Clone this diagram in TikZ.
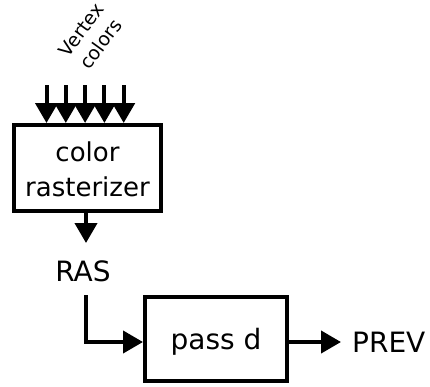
\documentclass[tikz,border=0pt]{standalone}
\usepackage{fontspec}
\setmainfont{DejaVu Sans}
\usetikzlibrary{arrows.meta}
\begin{document}
\begin{tikzpicture}[x=1pt,y=-1pt,
  blk/.style={draw,line width=4pt,inner sep=0pt},
  lbl/.style={font=\fontsize{28}{33}\selectfont,inner sep=0pt},
  conn/.style={line width=4pt,-{Triangle[length=20pt,width=22pt]}}]
\useasboundingbox (0,0) rectangle (430,386);
\node[blk,minimum width=147pt,minimum height=86pt] (cr) at (87.5,168) {};
\node[inner sep=0pt,align=center,font=\fontsize{26}{35}\selectfont] (crt) at (87.5,169) {color\\rasterizer};
\node[blk,minimum width=142pt,minimum height=84pt] (pd) at (216,339) {};
\node[lbl] (pdt) at (216,342) {pass d};
\node[lbl] (ras) at (83,271) {RAS};
\node[lbl,anchor=west] (prev) at (352,342) {PREV};
\node[inner sep=0pt,align=center,rotate=54,font=\fontsize{19}{24}\selectfont] (vc) at (91,37) {Vertex\\colors};
\foreach \i/\x in {1/46.5,2/65.8,3/85.1,4/104.4,5/123.7}{
  \coordinate (s\i) at (\x,85);
  \draw[conn] (s\i) -- (s\i |- cr.north);
}
\draw[conn] (cr.south -| 86,0) -- (86,243);
\coordinate (r1) at (86,295);
\coordinate (p1) at (pd.west |- 0,342);
\draw[conn] (r1) |- (p1);
\coordinate (p2) at (pd.east |- 0,342);
\coordinate (p3) at (341,342);
\draw[conn] (p2) -- (p3);
\end{tikzpicture}
\end{document}
